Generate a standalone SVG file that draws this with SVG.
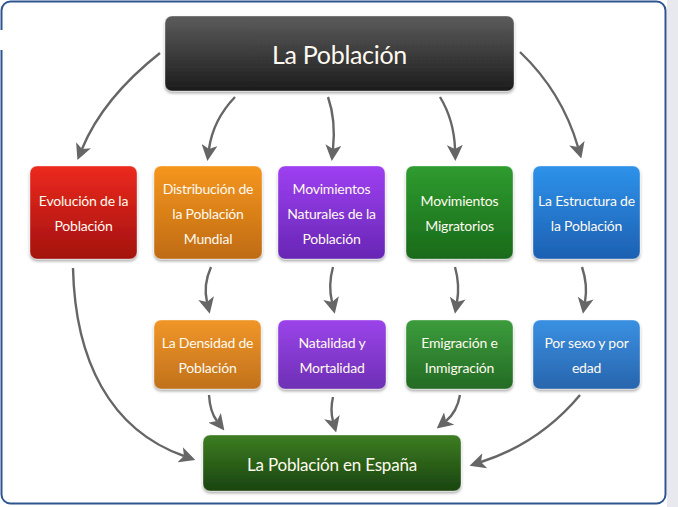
<svg xmlns="http://www.w3.org/2000/svg" width="678" height="507" viewBox="0 0 678 507">
<defs>
<linearGradient id="gTop" x1="0" y1="0" x2="0" y2="1"><stop offset="0" stop-color="#5c5c5c"/><stop offset="1" stop-color="#1c1c1c"/></linearGradient>
<linearGradient id="gRed" x1="0" y1="0" x2="0" y2="1"><stop offset="0" stop-color="#ec2a1e"/><stop offset="1" stop-color="#a3110e"/></linearGradient>
<linearGradient id="gOra" x1="0" y1="0" x2="0" y2="1"><stop offset="0" stop-color="#f5961f"/><stop offset="1" stop-color="#bf6b12"/></linearGradient>
<linearGradient id="gPur" x1="0" y1="0" x2="0" y2="1"><stop offset="0" stop-color="#9e40f2"/><stop offset="1" stop-color="#6726b4"/></linearGradient>
<linearGradient id="gGre" x1="0" y1="0" x2="0" y2="1"><stop offset="0" stop-color="#2f9c2f"/><stop offset="1" stop-color="#196a1a"/></linearGradient>
<linearGradient id="gBlu" x1="0" y1="0" x2="0" y2="1"><stop offset="0" stop-color="#2e92ea"/><stop offset="1" stop-color="#1d60b2"/></linearGradient>
<linearGradient id="gOra2" x1="0" y1="0" x2="0" y2="1"><stop offset="0" stop-color="#f19628"/><stop offset="1" stop-color="#c0711c"/></linearGradient>
<linearGradient id="gPur2" x1="0" y1="0" x2="0" y2="1"><stop offset="0" stop-color="#9b44ea"/><stop offset="1" stop-color="#6d2fb4"/></linearGradient>
<linearGradient id="gGre2" x1="0" y1="0" x2="0" y2="1"><stop offset="0" stop-color="#3c9c3c"/><stop offset="1" stop-color="#246b25"/></linearGradient>
<linearGradient id="gBlu2" x1="0" y1="0" x2="0" y2="1"><stop offset="0" stop-color="#3a90e2"/><stop offset="1" stop-color="#2865ad"/></linearGradient>
<linearGradient id="gEsp" x1="0" y1="0" x2="0" y2="1"><stop offset="0" stop-color="#3d7d22"/><stop offset="1" stop-color="#1a440f"/></linearGradient>
<filter id="sh" x="-10%" y="-10%" width="120%" height="130%"><feDropShadow dx="0" dy="2" stdDeviation="1.5" flood-color="#000" flood-opacity="0.35"/></filter>
<marker id="ah" viewBox="0 0 16 16" refX="4" refY="8" markerWidth="16" markerHeight="16" markerUnits="userSpaceOnUse" orient="auto">
<path d="M0,0 L16,8 L0,16 L4,8 z" fill="#666"/>
</marker>
</defs>
<style>
.node rect{stroke:rgba(255,255,255,0.35);stroke-width:1;filter:url(#sh)}
.node text{font-family:Lato,"Open Sans",sans-serif;fill:#fffaf0;text-anchor:middle;font-size:14px;letter-spacing:-0.2px}
.conn path{fill:none;stroke:#666;stroke-width:2.4;marker-end:url(#ah)}
</style>
<rect x="0" y="0" width="678" height="507" fill="#ffffff"/>
<rect x="667" y="0" width="11" height="507" fill="#e7e9ef"/>
<rect x="1.5" y="1.5" width="664" height="502" rx="9" fill="#ffffff" stroke="#2f5590" stroke-width="2"/>
<rect x="0" y="30" width="5" height="20" fill="#ffffff"/>

<g class="conn">
<path d="M160,53 Q103,98 82,149"/>
<path d="M235,97 Q213,120 209,149"/>
<path d="M328,97 Q336,120 333,149"/>
<path d="M440,97 Q454,120 455,149"/>
<path d="M520,52 Q562,92 578,147"/>
<path d="M211,267 Q203,285 207,302"/>
<path d="M333,267 Q328,285 332,302"/>
<path d="M455,267 Q460,285 457,302"/>
<path d="M582,267 Q588,285 585,302"/>
<path d="M209,395 Q210,412 217,421"/>
<path d="M333,397 Q330,410 333,421"/>
<path d="M460,395 Q457,412 446,421"/>
<path d="M580,395 Q540,443 481,462"/>
<path d="M73,268 C75,360 110,430 184,456"/>
</g>

<g id="n-poblacion" class="node">
<rect x="165" y="16" width="349" height="75" rx="7" fill="url(#gTop)"/>
<text x="339.5" y="64" style="font-size:25px;letter-spacing:-0.3px">La Población</text>
</g>
<g id="n-evolucion" class="node">
<rect x="30" y="166" width="107" height="93" rx="7" fill="url(#gRed)"/>
<text x="83.5" y="206">Evolución de la</text>
<text x="83.5" y="231">Población</text>
</g>
<g id="n-distribucion" class="node">
<rect x="154" y="166" width="108" height="93" rx="7" fill="url(#gOra)"/>
<text x="208" y="194">Distribución de</text>
<text x="208" y="219">la Población</text>
<text x="208" y="244">Mundial</text>
</g>
<g id="n-naturales" class="node">
<rect x="278" y="166" width="107" height="93" rx="7" fill="url(#gPur)"/>
<text x="331.5" y="194">Movimientos</text>
<text x="331.5" y="219">Naturales de la</text>
<text x="331.5" y="244">Población</text>
</g>
<g id="n-migratorios" class="node">
<rect x="406" y="166" width="107" height="93" rx="7" fill="url(#gGre)"/>
<text x="459.5" y="206">Movimientos</text>
<text x="459.5" y="231">Migratorios</text>
</g>
<g id="n-estructura" class="node">
<rect x="533" y="166" width="107" height="93" rx="7" fill="url(#gBlu)"/>
<text x="586.5" y="206">La Estructura de</text>
<text x="586.5" y="231">la Población</text>
</g>
<g id="n-densidad" class="node">
<rect x="154" y="320" width="107" height="69" rx="7" fill="url(#gOra2)"/>
<text x="207.5" y="348">La Densidad de</text>
<text x="207.5" y="373">Población</text>
</g>
<g id="n-natalidad" class="node">
<rect x="278" y="320" width="108" height="69" rx="7" fill="url(#gPur2)"/>
<text x="332" y="348">Natalidad y</text>
<text x="332" y="373">Mortalidad</text>
</g>
<g id="n-emigracion" class="node">
<rect x="406" y="320" width="107" height="69" rx="7" fill="url(#gGre2)"/>
<text x="459.5" y="348">Emigración e</text>
<text x="459.5" y="373">Inmigración</text>
</g>
<g id="n-sexo" class="node">
<rect x="533" y="320" width="107" height="69" rx="7" fill="url(#gBlu2)"/>
<text x="586.5" y="348">Por sexo y por</text>
<text x="586.5" y="373">edad</text>
</g>
<g id="n-espana" class="node">
<rect x="203" y="435" width="258" height="56" rx="7" fill="url(#gEsp)"/>
<text x="332" y="471" style="font-size:17px;letter-spacing:-0.2px">La Población en España</text>
</g>
</svg>
